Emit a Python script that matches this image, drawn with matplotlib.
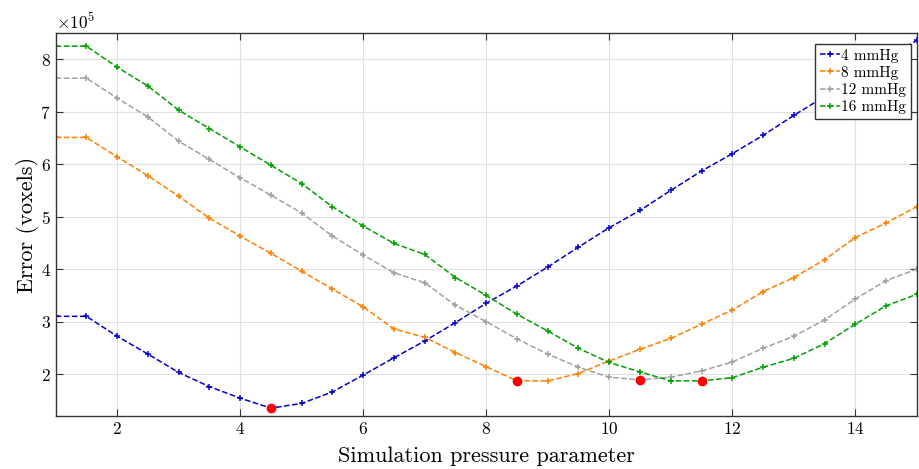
import numpy as np
import matplotlib.pyplot as plt
import matplotlib.ticker as mticker

plt.rcParams['font.family'] = ['cmr10', 'DejaVu Serif']
plt.rcParams['mathtext.fontset'] = 'cm'
plt.rcParams['axes.formatter.use_mathtext'] = True

x = np.arange(1, 15.01, 0.5)

err4 = [3.10, 3.10, 2.72, 2.38, 2.03, 1.76, 1.54, 1.35, 1.44, 1.66, 1.98, 2.31, 2.63, 2.98, 3.35,
        3.68, 4.04, 4.42, 4.79, 5.12, 5.50, 5.87, 6.20, 6.55, 6.93, 7.29, 7.65, 8.01, 8.36]
err8 = [6.51, 6.51, 6.14, 5.78, 5.39, 4.97, 4.63, 4.30, 3.96, 3.62, 3.28, 2.86, 2.70, 2.41, 2.14,
        1.87, 1.87, 2.01, 2.25, 2.47, 2.68, 2.95, 3.22, 3.57, 3.84, 4.18, 4.60, 4.88, 5.19]
err12 = [7.64, 7.64, 7.26, 6.90, 6.44, 6.09, 5.74, 5.41, 5.07, 4.63, 4.27, 3.93, 3.74, 3.31, 3.00,
         2.67, 2.38, 2.13, 1.94, 1.89, 1.94, 2.06, 2.23, 2.49, 2.72, 3.03, 3.43, 3.78, 4.00]
err16 = [8.25, 8.25, 7.85, 7.49, 7.03, 6.68, 6.33, 5.98, 5.63, 5.19, 4.82, 4.49, 4.28, 3.84, 3.50,
         3.14, 2.82, 2.49, 2.22, 2.04, 1.87, 1.87, 1.93, 2.13, 2.30, 2.58, 2.95, 3.30, 3.52]

min_x = [4.5, 8.5, 10.5, 11.5]
min_y = [1.35, 1.87, 1.89, 1.87]

labels = ['4 mmHg', '8 mmHg', '12 mmHg', '16 mmHg']
colors = ['#0000cc', '#ff8000', '#a0a0a0', '#00a000']

fig = plt.figure(figsize=(9.2, 4.69), dpi=100)
ax = fig.add_axes([0.0605, 0.113, 0.936, 0.8165])

for ys, lab, c in zip([err4, err8, err12, err16], labels, colors):
    ax.plot(x, np.array(ys) * 1e5, '--', marker='+', color=c, lw=1.1, ms=5, mew=1.1, label=lab)

ax.plot(min_x, np.array(min_y) * 1e5, 'o', color='red', ms=6, ls='none', zorder=5)

ax.set_xlim(1, 15)
ax.set_ylim(1.2e5, 8.5e5)
ax.set_xticks([2, 4, 6, 8, 10, 12, 14])
ax.set_yticks(np.arange(2, 9) * 1e5)
fmt = mticker.ScalarFormatter(useMathText=True)
fmt.set_powerlimits((0, 0))
ax.yaxis.set_major_formatter(fmt)
ax.yaxis.get_offset_text().set_fontsize(12.5)

ax.grid(True, color='#e0e0e0', lw=0.8)
ax.set_axisbelow(True)
ax.tick_params(direction='in', top=True, right=True, labelsize=12.5, length=5, color='#333333')
for s in ax.spines.values():
    s.set_color('#333333')
    s.set_linewidth(1.0)

ax.set_xlabel('Simulation pressure parameter', fontsize=16, labelpad=7)
ax.set_ylabel('Error (voxels)', fontsize=16, labelpad=1)

leg = ax.legend(loc='upper right', bbox_to_anchor=(0.993, 0.971), fontsize=11, fancybox=False,
                edgecolor='#333333', framealpha=1, handlelength=1.3, handletextpad=0.1,
                borderpad=0.3, labelspacing=0.2, borderaxespad=0)
leg.get_frame().set_linewidth(1.0)

fig.savefig('out.png', dpi=100)
